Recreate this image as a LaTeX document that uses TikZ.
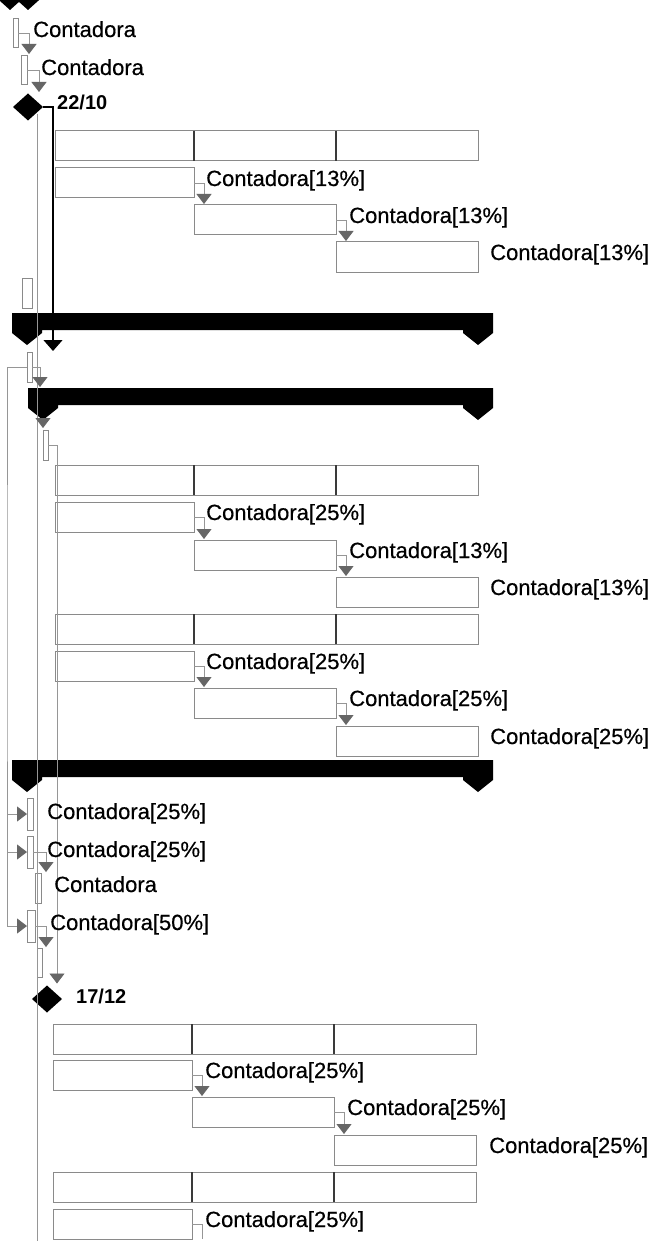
\documentclass[tikz,border=0pt]{standalone}
\usepackage{fontspec}
\setmainfont{Liberation Sans}
\newfontfamily\lblfont[FakeBold=0.5]{Liberation Sans}
\usetikzlibrary{arrows.meta,shapes.geometric}

\definecolor{boxline}{HTML}{8A8A8A}
\definecolor{divline}{HTML}{3A3A3A}
\definecolor{linkline}{HTML}{969696}
\definecolor{tipgray}{HTML}{666666}

\tikzset{
  taskbox/.style={draw=boxline, fill=white, line width=1pt, inner sep=0pt,
                  outer sep=0pt, anchor=north west},
  divider/.style={draw=divline, line width=1.1pt},
  link/.style={draw=linkline, line width=0.9pt,
               -{Triangle[width=15pt,length=10pt,fill=tipgray,color=tipgray]}},
  plainlink/.style={draw=linkline, line width=0.9pt},
  blacklink/.style={draw=black, line width=1.1pt,
               -{Triangle[width=19pt,length=11pt,fill=black]}},
  tasklabel/.style={anchor=base west, inner sep=0pt, font=\lblfont\fontsize{22}{26}\selectfont},
  datelabel/.style={anchor=base west, inner sep=0pt, font=\fontsize{20}{24}\selectfont\bfseries},
  milestone/.style={diamond, fill=black, inner sep=0pt, outer sep=0pt,
                    minimum width=30pt, minimum height=27pt},
}

% a row of three joined segments: name prefix, left x, top y
\newcommand\segrow[3]{%
  \node[taskbox, minimum width=139pt, minimum height=30pt] (#1a) at (#2,#3) {};
  \node[taskbox, minimum width=142pt, minimum height=30pt] (#1b) at (#1a.north east) {};
  \node[taskbox, minimum width=142pt, minimum height=30pt] (#1c) at (#1b.north east) {};
  \draw[divider] (#1a.north east) -- (#1a.south east);
  \draw[divider] (#1b.north east) -- (#1b.south east);
}
% black summary bar: left x, top y (right end fixed)
\newcommand\sumbar[2]{%
  \fill[black] (#1,#2) -- (493,#2) -- (493,#2+20) -- (478,#2+32) -- (463,#2+20)
    -- (463,#2+17) -- (#1+30,#2+17) -- (#1+30,#2+20) -- (#1+15,#2+32)
    -- (#1,#2+20) -- cycle;
}

\begin{document}
\begin{tikzpicture}[x=1pt,y=-1pt]
\useasboundingbox (0,0) rectangle (663,1241);
\fill[white] (0,0) rectangle (663,1241);

% ---------- top milestones and first tasks ----------
\node[milestone] (top1) at (10,-3.5) {};
\node[milestone] (top2) at (28,-3.5) {};

\node[taskbox, minimum width=5pt, minimum height=29pt] (t1) at (13,19) {};
\node[taskbox, minimum width=6pt, minimum height=29pt] (t2) at (21,56) {};
\node[milestone] (m1) at (28,107) {};

% ---------- first block of work ----------
\segrow{ga}{55}{131}
\node[taskbox, minimum width=139pt, minimum height=30pt] (gab) at (55,168) {};
\node[taskbox, minimum width=142pt, minimum height=30pt] (gac) at (194,205) {};
\node[taskbox, minimum width=142pt, minimum height=30pt] (gad) at (336,242) {};

\node[taskbox, minimum width=10pt, minimum height=30pt] (t3) at (22,278) {};
\node[taskbox, minimum width=5pt, minimum height=30pt] (t4) at (27,352) {};
\node[taskbox, minimum width=5pt, minimum height=30pt] (t5) at (43,430) {};

% ---------- second block of work ----------
\segrow{gb}{55}{465}
\node[taskbox, minimum width=139pt, minimum height=30pt] (gbb) at (55,502) {};
\node[taskbox, minimum width=142pt, minimum height=30pt] (gbc) at (194,540) {};
\node[taskbox, minimum width=142pt, minimum height=30pt] (gbd) at (336,577) {};
\segrow{gc}{55}{614}
\node[taskbox, minimum width=139pt, minimum height=30pt] (gcb) at (55,651) {};
\node[taskbox, minimum width=142pt, minimum height=30pt] (gcc) at (194,688) {};
\node[taskbox, minimum width=142pt, minimum height=30pt] (gcd) at (336,726) {};

% ---------- closing tasks ----------
\node[taskbox, minimum width=6pt, minimum height=32pt] (t6) at (27,798) {};
\node[taskbox, minimum width=6pt, minimum height=32pt] (t7) at (27,836) {};
\node[taskbox, minimum width=6pt, minimum height=30pt] (t8) at (35,873) {};
\node[taskbox, minimum width=8pt, minimum height=32pt] (t9) at (27,910) {};
\node[taskbox, minimum width=5pt, minimum height=29pt] (t10) at (37,948) {};
\node[milestone] (m2) at (47,999) {};

% ---------- third block of work ----------
\segrow{gd}{53}{1024}
\node[taskbox, minimum width=139pt, minimum height=30pt] (gdb) at (53,1060) {};
\node[taskbox, minimum width=142pt, minimum height=30pt] (gdc) at (192,1097) {};
\node[taskbox, minimum width=142pt, minimum height=30pt] (gdd) at (334,1135) {};
\segrow{ge}{53}{1172}
\node[taskbox, minimum width=139pt, minimum height=30pt] (geb) at (53,1209) {};

% ---------- summary bars ----------
\sumbar{12}{313}
\sumbar{28}{388}
\sumbar{12}{760}
\coordinate (s2tip) at (43,420);

% ---------- links ----------
\draw[plainlink] ([xshift=1.5pt]m1.south east) -- (37,1241);
\draw[blacklink] (m1.east) -| (53,351);

\draw[link] (t1.east) -| ([xshift=8pt,yshift=2pt]t2.north west);
\draw[link] (t2.east) -| ([xshift=11pt,yshift=1.5pt]m1.north);

\draw[link] (gab.east) -| ([xshift=10pt,yshift=1pt]gac.north west);
\draw[link] (gac.east) -| ([xshift=10pt,yshift=1pt]gad.north west);

\coordinate (loop) at (7,600);
\draw[link] (t4.west) -| (loop) |- (t9.west);
\draw[link] (loop |- t6.west) -- (t6.west);
\draw[link] (loop |- t7.west) -- (t7.west);
\draw[link] (t4.east) -| (40,387);
\draw[link] (s2tip) -- ([yshift=2pt]t5.north west);

\draw[link] (t5.east) -| ([xshift=10pt,yshift=2pt]m2.north);

\draw[link] (gbb.east) -| ([xshift=10pt,yshift=1pt]gbc.north west);
\draw[link] (gbc.east) -| ([xshift=10pt,yshift=1pt]gbd.north west);
\draw[link] (gcb.east) -| ([xshift=10pt,yshift=1pt]gcc.north west);
\draw[link] (gcc.east) -| ([xshift=10pt,yshift=1pt]gcd.north west);

\draw[link] (t7.east) -| ([xshift=11pt,yshift=1pt]t8.north west);
\draw[link] (t9.east) -| ([xshift=9pt,yshift=1pt]t10.north west);

\draw[link] (gdb.east) -| ([xshift=10pt,yshift=1pt]gdc.north west);
\draw[link] (gdc.east) -| ([xshift=10pt,yshift=1pt]gdd.north west);
\draw[plainlink] (geb.east) -| ([xshift=10pt]geb.south east);

% ---------- labels ----------
\node[tasklabel] (l1) at (33,37) {Contadora};
\node[tasklabel] (l2) at (41,75) {Contadora};
\node[datelabel] (d1) at (57,110) {22/10};

\node[tasklabel] (la1) at (206,186) {Contadora[13\%]};
\node[tasklabel] (la2) at (349,223) {Contadora[13\%]};
\node[tasklabel] (la3) at (490,260) {Contadora[13\%]};

\node[tasklabel] (lb1) at (206,520) {Contadora[25\%]};
\node[tasklabel] (lb2) at (349,558) {Contadora[13\%]};
\node[tasklabel] (lb3) at (490,595) {Contadora[13\%]};
\node[tasklabel] (lc1) at (206,669) {Contadora[25\%]};
\node[tasklabel] (lc2) at (349,706) {Contadora[25\%]};
\node[tasklabel] (lc3) at (490,744) {Contadora[25\%]};

\node[tasklabel] (l6) at (47,819) {Contadora[25\%]};
\node[tasklabel] (l7) at (47,857) {Contadora[25\%]};
\node[tasklabel] (l8) at (54,892) {Contadora};
\node[tasklabel] (l9) at (50,930) {Contadora[50\%]};

\node[datelabel] (d2) at (76,1003) {17/12};

\node[tasklabel] (ld1) at (205,1078) {Contadora[25\%]};
\node[tasklabel] (ld2) at (347,1115) {Contadora[25\%]};
\node[tasklabel] (ld3) at (489,1153) {Contadora[25\%]};
\node[tasklabel] (le1) at (205,1227) {Contadora[25\%]};
\end{tikzpicture}
\end{document}
